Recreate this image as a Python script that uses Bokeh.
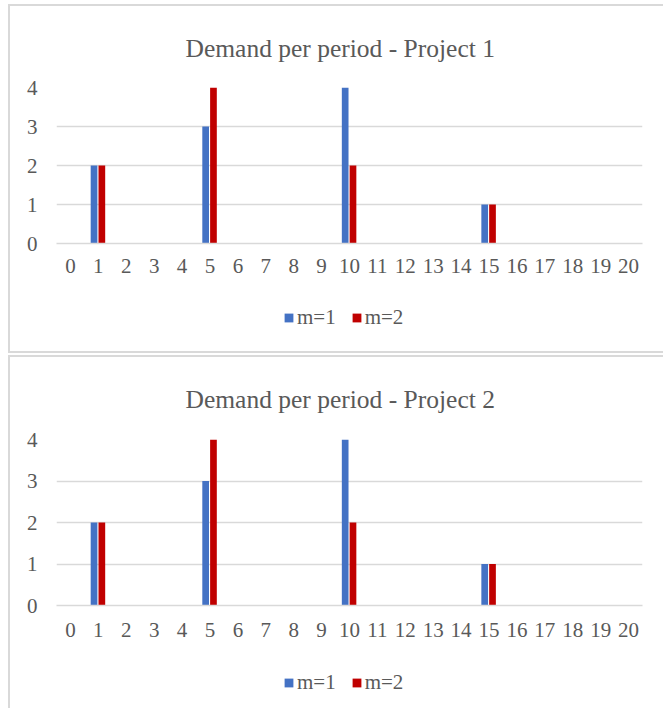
from bokeh.plotting import figure
from bokeh.models import FactorRange, Range1d, Legend, LegendItem, ColumnDataSource
from bokeh.transform import dodge
from bokeh.layouts import column
from bokeh.embed import file_html
from bokeh.resources import INLINE

periods = [str(i) for i in range(21)]
p1_m1 = [0, 2, 0, 0, 0, 3, 0, 0, 0, 0, 4, 0, 0, 0, 0, 1, 0, 0, 0, 0, 0]
p1_m2 = [0, 2, 0, 0, 0, 4, 0, 0, 0, 0, 2, 0, 0, 0, 0, 1, 0, 0, 0, 0, 0]
p2_m1 = [0, 2, 0, 0, 0, 3, 0, 0, 0, 0, 4, 0, 0, 0, 0, 1, 0, 0, 0, 0, 0]
p2_m2 = [0, 2, 0, 0, 0, 4, 0, 0, 0, 0, 2, 0, 0, 0, 0, 1, 0, 0, 0, 0, 0]
y_ticks = [0, 1, 2, 3, 4]
titles = ["Demand per period - Project 1", "Demand per period - Project 2"]
series_labels = ["m=1", "m=2"]
colors = ["#4472C4", "#C00000"]

FONT = "Liberation Serif"
TXT = "#595959"
GRID = "#d9d9d9"
W = 653


def make_chart(title, src, height, top, frame_h, xstand, tstand):
    p = figure(x_range=FactorRange(factors=periods),
               y_range=Range1d(start=0, end=4),
               width=W, height=height, title=title,
               output_backend="svg", toolbar_location=None)
    p.min_border_left = 46
    p.min_border_right = 21
    p.min_border_top = top
    p.min_border_bottom = height - top - frame_h
    p.title.align = "left"
    p.title.offset = 129
    p.title.text_font = FONT
    p.title.text_font_size = "25.5px"
    p.title.text_font_style = "normal"
    p.title.text_color = TXT
    p.title.standoff = tstand
    p.vbar(x=dodge("period", -0.155, range=p.x_range), top="m1", width=0.24,
           source=src, fill_color=colors[0], line_color=None)
    p.vbar(x=dodge("period", 0.125, range=p.x_range), top="m2", width=0.24,
           source=src, fill_color=colors[1], line_color=None)
    p.outline_line_color = None
    p.xgrid.visible = False
    p.ygrid.grid_line_color = GRID
    p.ygrid.grid_line_width = 1.5
    p.yaxis.ticker = y_ticks
    p.yaxis.axis_line_color = None
    p.yaxis.major_tick_line_color = None
    p.yaxis.minor_tick_line_color = None
    p.yaxis.major_tick_out = 0
    p.yaxis.major_label_standoff = 19
    p.xaxis.axis_line_color = GRID
    p.xaxis.axis_line_width = 1.5
    p.xaxis.major_tick_line_color = None
    p.xaxis.major_tick_out = 0
    p.xaxis.major_label_standoff = xstand
    for ax in (p.xaxis, p.yaxis):
        ax.major_label_text_font = FONT
        ax.major_label_text_font_size = "21px"
        ax.major_label_text_color = TXT
    return p


def make_legend(src, height, loc):
    # legend strip: the same series on a range that shows none of the periods,
    # so only the key (swatch + label) is visible
    lf = figure(width=W, height=height, x_range=FactorRange(factors=["key"]),
                y_range=Range1d(0, 4),
                x_axis_type=None, y_axis_type=None, min_border=0,
                output_backend="svg", toolbar_location=None)
    lf.grid.visible = False
    lf.outline_line_color = None
    g1 = lf.vbar(x="period", top="m1", width=0.24, source=src,
                 fill_color=colors[0], line_color=None)
    g2 = lf.vbar(x="period", top="m2", width=0.24, source=src,
                 fill_color=colors[1], line_color=None)
    legend = Legend(items=[LegendItem(label=series_labels[0], renderers=[g1]),
                           LegendItem(label=series_labels[1], renderers=[g2])],
                    orientation="horizontal", location=loc)
    legend.label_text_font = FONT
    legend.label_text_font_size = "21px"
    legend.label_text_color = TXT
    legend.glyph_width = 11
    legend.glyph_height = 11
    legend.label_standoff = 3
    legend.spacing = 15
    legend.border_line_color = None
    legend.background_fill_alpha = 0
    legend.margin = 0
    legend.padding = 0
    lf.add_layout(legend)
    return lf


src1 = ColumnDataSource(dict(period=periods, m1=p1_m1, m2=p1_m2))
src2 = ColumnDataSource(dict(period=periods, m1=p2_m1, m2=p2_m2))

pa = make_chart(titles[0], src1, 284, 81, 156, 15, 50)
la = make_legend(src1, 61, (227, 21))
pb = make_chart(titles[1], src2, 298, 82, 166, 17, 51)
lb = make_legend(src2, 53, (227, 13))

ca = column(pa, la, styles={"margin-left": "8px", "margin-top": "4px",
                            "border-left": "2px solid #d9d9d9",
                            "border-top": "2px solid #d9d9d9",
                            "border-bottom": "2px solid #d9d9d9"})
cb = column(pb, lb, styles={"margin-left": "8px", "margin-top": "2px",
                            "border-left": "2px solid #d9d9d9",
                            "border-top": "2px solid #d9d9d9"})
layout = column(ca, cb)

open("out.html", "w").write(file_html(layout, INLINE))
